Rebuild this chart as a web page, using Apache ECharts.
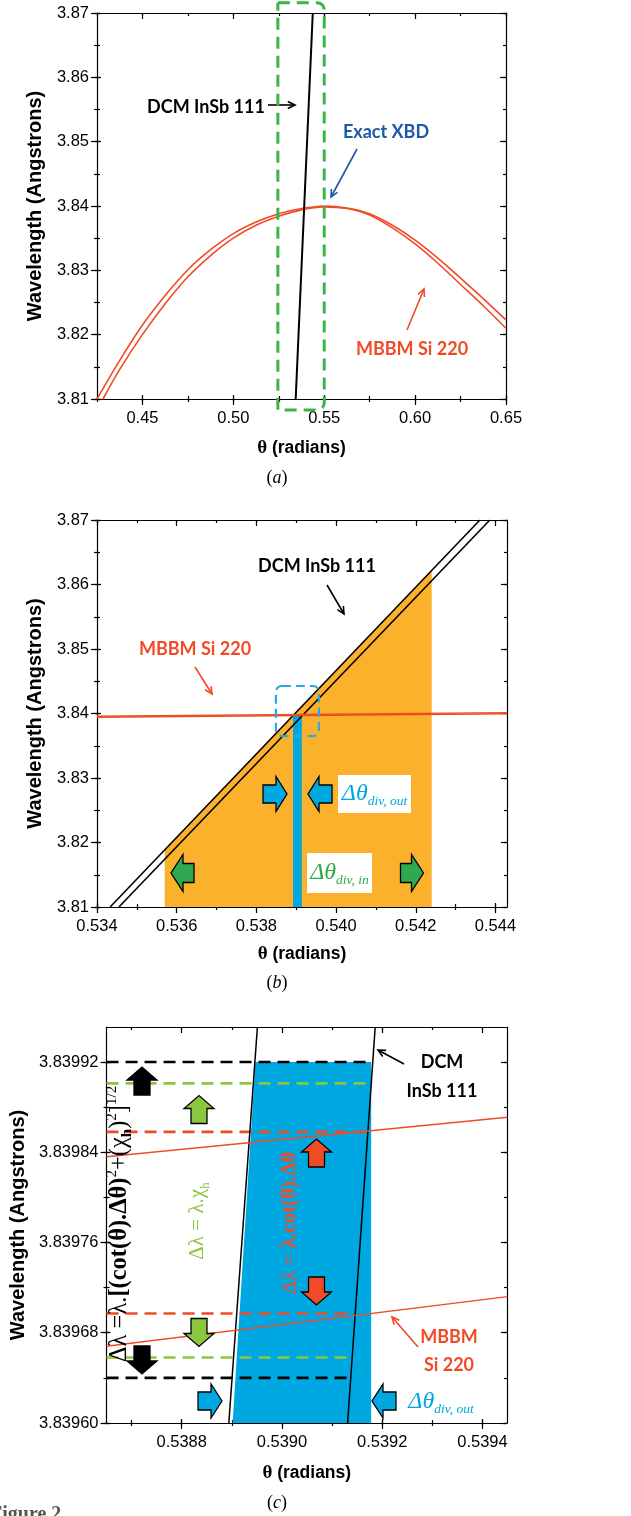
<!DOCTYPE html>
<html>
<head>
<meta charset="utf-8">
<script src="https://cdn.jsdelivr.net/npm/echarts@6/dist/echarts.min.js"></script>
<style>
html,body{margin:0;padding:0;background:#fff;}
#fig{width:631px;height:1516px;}
</style>
</head>
<body>
<div id="fig"></div>
<script>
// ---------- (a) wide θ scan ----------
const aThetaTicks  = [0.45, 0.50, 0.55, 0.60, 0.65];
const aThetaMinor  = [0.425, 0.45, 0.475, 0.50, 0.525, 0.55, 0.575, 0.60, 0.625, 0.65];
const aLambdaTicks = [3.81, 3.82, 3.83, 3.84, 3.85, 3.86, 3.87];
const aLambdaMinor = [3.81, 3.815, 3.82, 3.825, 3.83, 3.835, 3.84, 3.845, 3.85, 3.855, 3.86, 3.865, 3.87];
// MBBM Si 220 acceptance (two edges)
const aMbbmOuter = [[0.425,3.8100],[0.4375,3.8160],[0.45,3.8215],[0.4625,3.8261],[0.475,3.8301],[0.4875,3.8332],
                    [0.50,3.8357],[0.5125,3.8375],[0.525,3.8388],[0.5375,3.8396],[0.55,3.8400],[0.5625,3.8397],
                    [0.575,3.8388],[0.5875,3.8370],[0.60,3.8347],[0.6125,3.8319],[0.625,3.8288],[0.6375,3.8256],
                    [0.65,3.8223]];
const aMbbmInner = [[0.4283,3.8100],[0.4375,3.8146],[0.45,3.8200],[0.4625,3.8248],[0.475,3.8290],[0.4875,3.8323],
                    [0.50,3.8350],[0.5125,3.8370],[0.525,3.8384],[0.5375,3.8394],[0.55,3.83985],[0.5625,3.8396],
                    [0.575,3.8386],[0.5875,3.8366],[0.60,3.8341],[0.6125,3.8311],[0.625,3.8278],[0.6375,3.8245],
                    [0.65,3.8210]];
// DCM InSb 111
const aDcm = [[0.5343,3.81],[0.5437,3.87]];
// window enlarged in (b)
const aWindow = [[0.5245,3.8083],[0.5500,3.8716]];

// ---------- (b) zoom near the crossing ----------
const bThetaTicks  = [0.534, 0.536, 0.538, 0.540, 0.542, 0.544];
const bThetaMinor  = [0.534, 0.535, 0.536, 0.537, 0.538, 0.539, 0.540, 0.541, 0.542, 0.543, 0.544];
const bLambdaTicks = aLambdaTicks;
const bLambdaMinor = aLambdaMinor;
const bDcmUpper  = [[0.53433,3.81],[0.54361,3.87]];
const bDcmLower  = [[0.53455,3.81],[0.54386,3.87]];
const bMbbmOuter = [[0.534,3.83958],[0.54429,3.84013]];
const bMbbmInner = [[0.534,3.83942],[0.54429,3.83997]];
const bInputBand = [[0.5357,3.81],[0.5357,3.8189],[0.5424,3.8621],[0.5424,3.81]];
const bOutputBand = [[0.53892,3.81],[0.53892,3.8396],[0.53914,3.8397],[0.53914,3.81]];
const bWindow = [[0.53849,3.8365],[0.53957,3.84426]];

// ---------- (c) zoom on the output band ----------
const cThetaTicks  = [0.5388, 0.5390, 0.5392, 0.5394];
const cThetaMinor  = [0.5387, 0.5388, 0.5389, 0.5390, 0.5391, 0.5392, 0.5393, 0.5394];
const cLambdaTicks = [3.8396, 3.83968, 3.83976, 3.83984, 3.83992];
const cLambdaMinor = [3.8396, 3.83964, 3.83968, 3.83972, 3.83976, 3.8398, 3.83984, 3.83988, 3.83992];
const cDcmLeft   = [[0.538894,3.8396],[0.538951,3.839951]];
const cDcmRight  = [[0.539131,3.8396],[0.539186,3.839951]];
const cMbbmUpper = [[0.53865,3.839836],[0.53945,3.839871]];
const cMbbmLower = [[0.53865,3.839668],[0.53945,3.839712]];
const cOutputBand = [[0.5389015,3.8396],[0.538947,3.83992],[0.539178,3.83992],[0.539178,3.8396]];
// Δλ limits: [upper level, lower level]
const cTotalLimits  = [3.83992, 3.83964];
const cDarwinLimits = [3.839901, 3.839658];
const cDivLimits    = [3.839858, 3.839697];
const cLimitEnds    = [0.53918, 0.53913];   // θ where the upper / lower limit lines stop

const SANS  = '"Liberation Sans", Arial, sans-serif';
const CAL   = 'Lato, "Open Sans", sans-serif';
const SERIF = '"Liberation Serif", "DejaVu Serif", serif';
const RED = '#ef4b27', BLUE = '#00a8e1', ORANGE = '#fcb12c', GREEN = '#3bb54a',
      DGREEN = '#2fa94f', LGREEN = '#8cc63e', XBD = '#1c5aa8';

const chart = echarts.init(document.getElementById('fig'), null, {renderer: 'canvas'});

const grids = [
  {left: 97, top: 13,   width: 409, height: 386},
  {left: 97, top: 520,  width: 410, height: 387},
  {left: 98, top: 1027, width: 409, height: 396}
];

const specs = [
  {xMin: 0.425, xMax: 0.65, yMin: 3.81, yMax: 3.87, xMajor: aThetaTicks, xMinor: aThetaMinor,
   yMajor: aLambdaTicks, yMinor: aLambdaMinor, xd: 2, yd: 2, xGap: 40, yGap: 52},
  {xMin: 0.534, xMax: 0.54429, yMin: 3.81, yMax: 3.87, xMajor: bThetaTicks, xMinor: bThetaMinor,
   yMajor: bLambdaTicks, yMinor: bLambdaMinor, xd: 3, yd: 2, xGap: 38, yGap: 52},
  {xMin: 0.53865, xMax: 0.539449, yMin: 3.8396, yMax: 3.839951, xMajor: cThetaTicks, xMinor: cThetaMinor,
   yMajor: cLambdaTicks, yMinor: cLambdaMinor, xd: 4, yd: 5, xGap: 41, yGap: 67}
];

const xAxes = [], yAxes = [];
const off = {show: false};
const axLine = {show: true, lineStyle: {color: '#000', width: 1.2}};
const tk = (vals, inside, len) => ({show: true, customValues: vals, inside: inside, length: len,
                                    lineStyle: {color: '#000', width: 1.2}});

specs.forEach((s, g) => {
  const bx = {type: 'value', gridIndex: g, min: s.xMin, max: s.xMax, splitLine: off, axisLabel: off, axisLine: off};
  const by = {type: 'value', gridIndex: g, min: s.yMin, max: s.yMax, splitLine: off, axisLabel: off, axisLine: off};
  xAxes.push(Object.assign({}, bx, {
    position: 'bottom', axisLine: axLine, axisTick: tk(s.xMajor, false, 6),
    axisLabel: {show: true, customValues: s.xMajor, formatter: v => v.toFixed(s.xd), margin: 11,
                color: '#000', fontSize: 16.5, fontFamily: SANS},
    name: '{t|θ} (radians)', nameLocation: 'middle', nameGap: s.xGap,
    nameTextStyle: {color: '#000', fontSize: 17.5, fontWeight: 'bold', fontFamily: SANS,
                    rich: {t: {fontFamily: SERIF, fontSize: 19, fontWeight: 'bold', color: '#000'}}}
  }));
  xAxes.push(Object.assign({}, bx, {position: 'bottom', axisTick: tk(s.xMajor, true, 4)}));
  xAxes.push(Object.assign({}, bx, {position: 'bottom', axisTick: tk(s.xMinor, false, 3)}));
  xAxes.push(Object.assign({}, bx, {position: 'bottom', axisTick: tk(s.xMinor, true, 3)}));
  xAxes.push(Object.assign({}, bx, {position: 'top', axisLine: axLine, axisTick: tk(s.xMajor, true, 6)}));
  xAxes.push(Object.assign({}, bx, {position: 'top', axisTick: tk(s.xMinor, true, 3)}));

  yAxes.push(Object.assign({}, by, {
    position: 'left', axisLine: axLine, axisTick: tk(s.yMajor, false, 6),
    axisLabel: {show: true, customValues: s.yMajor, formatter: v => v.toFixed(s.yd), margin: 8,
                color: '#000', fontSize: 16.5, fontFamily: SANS},
    name: 'Wavelength (Angstrons)', nameLocation: 'middle', nameGap: s.yGap,
    nameTextStyle: {color: '#000', fontSize: 20, fontWeight: 'bold', fontFamily: SANS}
  }));
  yAxes.push(Object.assign({}, by, {position: 'left', axisTick: tk(s.yMajor, true, 4)}));
  yAxes.push(Object.assign({}, by, {position: 'left', axisTick: tk(s.yMinor, false, 3)}));
  yAxes.push(Object.assign({}, by, {position: 'left', axisTick: tk(s.yMinor, true, 3)}));
  yAxes.push(Object.assign({}, by, {position: 'right', axisLine: axLine, axisTick: tk(s.yMajor, true, 6)}));
  yAxes.push(Object.assign({}, by, {position: 'right', axisTick: tk(s.yMinor, true, 3)}));
});

function line(g, data, color, width, extra) {
  return Object.assign({type: 'line', xAxisIndex: g * 6, yAxisIndex: g * 6, data: data, showSymbol: false,
    symbol: 'none', silent: true, clip: true, lineStyle: {color: color, width: width}, z: 5}, extra || {});
}
function dashed(g, data, color) {
  return line(g, data, color, 2.6, {lineStyle: {color: color, width: 2.6, type: [12, 7]}, z: 4});
}
function fill(g, verts, color, z) {
  return {type: 'custom', xAxisIndex: g * 6, yAxisIndex: g * 6, silent: true, clip: true, z: z,
    data: [verts[0]],
    renderItem: (params, api) => ({type: 'polygon',
      shape: {points: verts.map(v => api.coord(v))}, style: {fill: color}})};
}

const series = [
  // (a)
  line(0, aMbbmOuter, RED, 1.6, {smooth: 0.3}),
  line(0, aMbbmInner, RED, 1.6, {smooth: 0.3}),
  line(0, aDcm, '#000', 2),
  // (b)
  fill(1, bInputBand, ORANGE, 1),
  fill(1, bOutputBand, BLUE, 2),
  line(1, bDcmUpper, '#000', 1.6),
  line(1, bDcmLower, '#000', 1.6),
  line(1, bMbbmOuter, RED, 1.4, {z: 6}),
  line(1, bMbbmInner, RED, 1.4, {z: 6}),
  // (c)
  fill(2, cOutputBand, BLUE, 1),
  dashed(2, [[0.53865, cTotalLimits[0]], [cLimitEnds[0], cTotalLimits[0]]], '#000'),
  dashed(2, [[0.53865, cTotalLimits[1]], [cLimitEnds[1], cTotalLimits[1]]], '#000'),
  dashed(2, [[0.53865, cDarwinLimits[0]], [cLimitEnds[0], cDarwinLimits[0]]], LGREEN),
  dashed(2, [[0.53865, cDarwinLimits[1]], [cLimitEnds[1], cDarwinLimits[1]]], LGREEN),
  dashed(2, [[0.53865, cDivLimits[0]], [cLimitEnds[0], cDivLimits[0]]], RED),
  dashed(2, [[0.53865, cDivLimits[1]], [cLimitEnds[1], cDivLimits[1]]], RED),
  line(2, cDcmLeft, '#000', 1.5),
  line(2, cDcmRight, '#000', 1.5),
  line(2, cMbbmUpper, RED, 1.4, {z: 6}),
  line(2, cMbbmLower, RED, 1.4, {z: 6})
];

chart.setOption({animation: false, backgroundColor: '#fff', grid: grids, xAxis: xAxes, yAxis: yAxes, series: series});

// ---------- annotations ----------
const px = (g, p) => chart.convertToPixel({xAxisIndex: g * 6, yAxisIndex: g * 6}, p);

function arrow(x1, y1, x2, y2, color, w) {
  const a = Math.atan2(y2 - y1, x2 - x1), L = 8, s = 0.45;
  const p1 = [x2 - L * Math.cos(a - s), y2 - L * Math.sin(a - s)];
  const p2 = [x2 - L * Math.cos(a + s), y2 - L * Math.sin(a + s)];
  return [
    {type: 'line', shape: {x1: x1, y1: y1, x2: x2, y2: y2}, style: {stroke: color, lineWidth: w}},
    {type: 'polyline', shape: {points: [p1, [x2, y2], p2]}, style: {stroke: color, lineWidth: w, fill: null}}
  ];
}
function block(cx, cy, dir, len, headW, bodyW, headLen, color) {
  const pts = [[-len / 2, -bodyW / 2], [len / 2 - headLen, -bodyW / 2], [len / 2 - headLen, -headW / 2], [len / 2, 0],
               [len / 2 - headLen, headW / 2], [len / 2 - headLen, bodyW / 2], [-len / 2, bodyW / 2]];
  const ang = {right: 0, down: Math.PI / 2, left: Math.PI, up: -Math.PI / 2}[dir];
  const c = Math.cos(ang), s = Math.sin(ang);
  return {type: 'polygon', z: 20,
    shape: {points: pts.map(([x, y]) => [cx + x * c - y * s, cy + x * s + y * c])},
    style: {fill: color, stroke: '#000', lineWidth: 1.3}};
}
function label(text, x, y, color, size, extra) {
  return {type: 'text', x: x, y: y, z: 30,
    style: Object.assign({text: text, fill: color, font: 'bold ' + size + 'px ' + CAL,
      textAlign: 'center', textVerticalAlign: 'middle'}, extra || {})};
}
function dashBox(g, box, color, r, w, dash) {
  const p0 = px(g, [box[0][0], box[1][1]]), p1 = px(g, [box[1][0], box[0][1]]);
  return {type: 'rect', z: 25, shape: {x: p0[0], y: p0[1], width: p1[0] - p0[0], height: p1[1] - p0[1], r: r},
    style: {fill: null, stroke: color, lineWidth: w, lineDash: dash}};
}
function delta(x, y, sub, color) {
  return {type: 'text', x: x, y: y, z: 30, style: {
    text: '{d|Δθ}{s|' + sub + '}', textAlign: 'center', textVerticalAlign: 'middle', fill: color,
    rich: {d: {fill: color, fontFamily: SERIF, fontStyle: 'italic', fontSize: 24, lineHeight: 28, verticalAlign: 'middle'},
           s: {fill: color, fontFamily: SERIF, fontStyle: 'italic', fontSize: 13.5, lineHeight: 21, verticalAlign: 'bottom'}}}};
}
function caption(letter, y) {
  return {type: 'text', x: 277, y: y, z: 30, style: {
    text: '{n|(}{i|' + letter + '}{n|)}', textAlign: 'center', textVerticalAlign: 'middle',
    rich: {n: {fill: '#000', fontFamily: SERIF, fontSize: 18}, i: {fill: '#000', fontFamily: SERIF, fontSize: 18, fontStyle: 'italic'}}}};
}
function vtext(x, y, text, rich) {
  return {type: 'text', x: x, y: y, rotation: Math.PI / 2, z: 30, style: {
    text: text, textAlign: 'center', textVerticalAlign: 'middle', rich: rich}};
}
const mk = (color, size, weight, va, lh) => ({fill: color, fontFamily: SERIF, fontSize: size,
  fontWeight: weight || 'normal', verticalAlign: va || 'middle', lineHeight: lh || 30});

const graphics = [].concat(
  // (a)
  [dashBox(0, aWindow, GREEN, [0, 7, 7, 0], 3, [12, 7])],
  [label('DCM InSb 111', 206, 107, '#000', 18)], arrow(268, 105, 295, 105, '#000', 1.6),
  [label('Exact XBD', 386, 132, XBD, 18)], arrow(357, 149, 331, 197, XBD, 1.6),
  [label('MBBM Si 220', 412, 349, RED, 18)], arrow(407, 330, 424, 289, RED, 1.6),
  [caption('a', 478)],
  // (b)
  [dashBox(1, bWindow, '#29abe2', 6, 2.2, [9, 5])],
  [label('DCM InSb 111', 317, 566, '#000', 18)], arrow(327, 585, 344, 614, '#000', 1.6),
  [label('MBBM Si 220', 195, 649, RED, 18)], arrow(195, 667, 212, 694, RED, 1.6),
  [block(275, 794, 'right', 24, 35, 18, 11, BLUE), block(320, 794, 'left', 24, 35, 18, 11, BLUE)],
  [{type: 'rect', z: 26, shape: {x: 338, y: 775, width: 73, height: 38}, style: {fill: '#fff'}}, delta(374.5, 794, 'div, out', BLUE)],
  [block(182.5, 873, 'left', 23, 37, 19, 12, DGREEN), block(412, 873, 'right', 23, 37, 19, 12, DGREEN)],
  [{type: 'rect', z: 26, shape: {x: 307, y: 853, width: 65, height: 40}, style: {fill: '#fff'}}, delta(339.5, 873, 'div, in', DGREEN)],
  [caption('b', 983)],
  // (c)
  [label('DCM', 442, 1062, '#000', 18), label('InSb 111', 442, 1091, '#000', 18)], arrow(404, 1064, 378, 1050, '#000', 1.6),
  [label('MBBM', 449, 1337, RED, 18), label('Si 220', 449, 1365, RED, 18)], arrow(418, 1347, 392, 1317, RED, 1.6),
  [delta(441, 1402, 'div, out', BLUE)],
  [block(210, 1401, 'right', 24, 34, 18, 11, BLUE), block(384, 1401, 'left', 24, 34, 18, 11, BLUE)],
  [block(142, 1081, 'up', 28, 30, 16, 13, '#000'), block(142, 1360, 'down', 28, 30, 16, 13, '#000'),
   block(199, 1109.5, 'up', 28, 30, 16, 13, LGREEN), block(199, 1332.5, 'down', 28, 30, 16, 13, LGREEN),
   block(316.5, 1153, 'up', 28, 30, 16, 13, RED), block(316.5, 1291, 'down', 28, 30, 16, 13, RED)],
  [vtext(120, 1224, '{n|Δλ =λ.}{b|[(cot(θ).Δθ)}{p|2}{n|+(χ}{q|h}{n|)}{p|2}{n|]}{p|1/2}', {
     n: mk('#000', 24.5), b: mk('#000', 24.5, 'bold'), p: mk('#000', 15, 'normal', 'top', 15), q: mk('#000', 15, 'bold', 'bottom', 15)})],
  [vtext(197, 1221, '{n|Δλ = λ.χ}{q|h}', {n: mk(LGREEN, 21), q: mk(LGREEN, 13, 'normal', 'bottom', 13)})],
  [vtext(290, 1223, '{n|Δλ = }{b|λ.cot(θ).Δθ}', {n: mk(RED, 21), b: mk(RED, 21, 'bold')})],
  [caption('c', 1503)],
  [{type: 'text', x: -10, y: 1505, z: 30, style: {text: 'Figure 2', fill: '#555', font: 'bold 20px ' + SERIF,
     textAlign: 'left', textVerticalAlign: 'top'}}]
);

chart.setOption({graphic: graphics});
</script>
</body>
</html>
